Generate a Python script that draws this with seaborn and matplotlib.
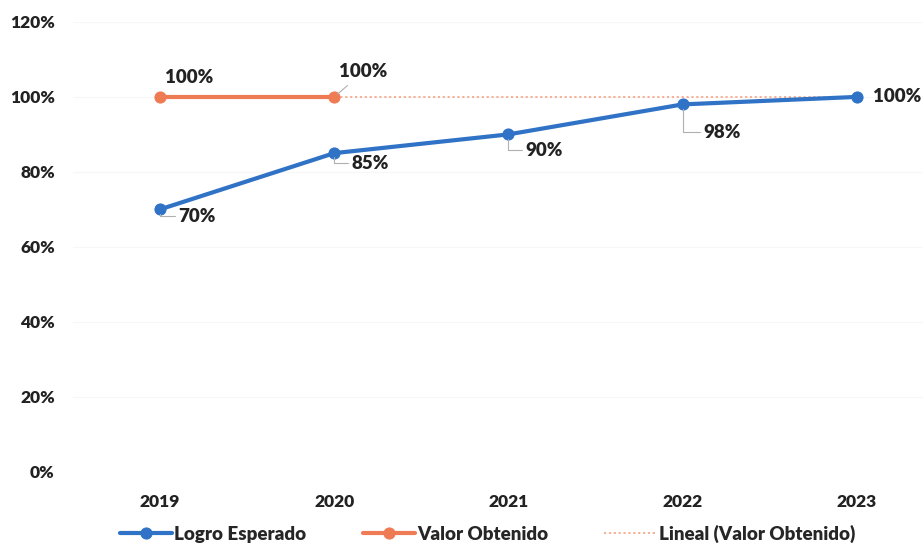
import matplotlib
matplotlib.use("Agg")
import matplotlib.pyplot as plt
import pandas as pd
import seaborn as sns

years = ["2019", "2020", "2021", "2022", "2023"]
logro_esperado = [70, 85, 90, 98, 100]
valor_years = ["2019", "2020"]
valor_obtenido = [100, 100]
y_ticks = [0, 20, 40, 60, 80, 100, 120]

BLUE = "#2F72C6"
ORANGE = "#EF7B55"
TREND = "#F6A98C"

sns.set_theme(style="white")
plt.rcParams["font.family"] = ["Lato", "DejaVu Sans"]
plt.rcParams["font.weight"] = "heavy"

df_logro = pd.DataFrame({"year": years, "value": logro_esperado})
df_valor = pd.DataFrame({"year": valor_years, "value": valor_obtenido})
# linear trend of Valor Obtenido (constant, both points are equal)
df_trend = pd.DataFrame({"year": years, "value": [valor_obtenido[-1]] * len(years)})

fig = plt.figure(figsize=(9.23, 5.48), dpi=100)
ax = fig.add_axes([0.079, 0.139, 0.921, 0.821])

for t in y_ticks:
    ax.axhline(t, color="#F7F7F7", lw=0.8, zorder=0)

sns.lineplot(data=df_trend, x="year", y="value", ax=ax, color=TREND,
             lw=1.3, linestyle=(0, (1.2, 1.5)), label="Lineal (Valor Obtenido)", zorder=2)
sns.lineplot(data=df_logro, x="year", y="value", ax=ax, color=BLUE, lw=3,
             marker="o", markersize=8, markeredgecolor=BLUE,
             label="Logro Esperado", zorder=3)
sns.lineplot(data=df_valor, x="year", y="value", ax=ax, color=ORANGE, lw=3,
             marker="o", markersize=8, markeredgecolor=ORANGE,
             label="Valor Obtenido", zorder=3)

# data labels
logro_offsets = [(18, -7), (17, -10), (17, -16), (21, -28), (16, 0)]
for i, (v, off) in enumerate(zip(logro_esperado, logro_offsets)):
    arrow = dict(arrowstyle="-", color="#B0B0B0", lw=0.8,
                 connectionstyle="angle,angleA=0,angleB=90,rad=0",
                 shrinkA=0, shrinkB=3) if off[1] != 0 else None
    ax.annotate(f"{v}%", (i, v), xytext=off, textcoords="offset pixels",
                ha="left", va="center", fontsize=13.5, fontweight="heavy",
                color="#222222", arrowprops=arrow)

valor_offsets = [(5, 19), (5, 25)]
for i, (v, off) in enumerate(zip(valor_obtenido, valor_offsets)):
    arrow = dict(arrowstyle="-", color="#B0B0B0", lw=0.8, shrinkA=2,
                 shrinkB=3) if i == 1 else None
    ax.annotate(f"{v}%", (i, v), xytext=off, textcoords="offset pixels",
                ha="left", va="center", fontsize=13.5, fontweight="heavy",
                color="#222222", arrowprops=arrow)

ax.set_ylim(0, 120)
ax.set_xlim(-0.5, 4.38)
ax.set_yticks(y_ticks)
ax.set_yticklabels([f"{t}%" for t in y_ticks])
ax.set_xlabel("")
ax.set_ylabel("")
ax.tick_params(axis="both", length=0, labelsize=12.5, colors="#222222")
ax.tick_params(axis="x", pad=16)
ax.tick_params(axis="y", pad=13)
for lab in ax.get_xticklabels() + ax.get_yticklabels():
    lab.set_fontweight("heavy")
sns.despine(ax=ax, left=True, bottom=True)

handles, labels = ax.get_legend_handles_labels()
order = [labels.index(n) for n in ["Logro Esperado", "Valor Obtenido", "Lineal (Valor Obtenido)"]]
ax.get_legend().remove()
fig.legend([handles[k] for k in order], [labels[k] for k in order],
           loc="lower center", bbox_to_anchor=(0.528, -0.022), ncol=3,
           frameon=False, fontsize=13.5, handlelength=2.8, handletextpad=0.1,
           columnspacing=3.0)
for txt in fig.legends[0].get_texts():
    txt.set_fontweight("heavy")

fig.savefig("out.png", dpi=100)
